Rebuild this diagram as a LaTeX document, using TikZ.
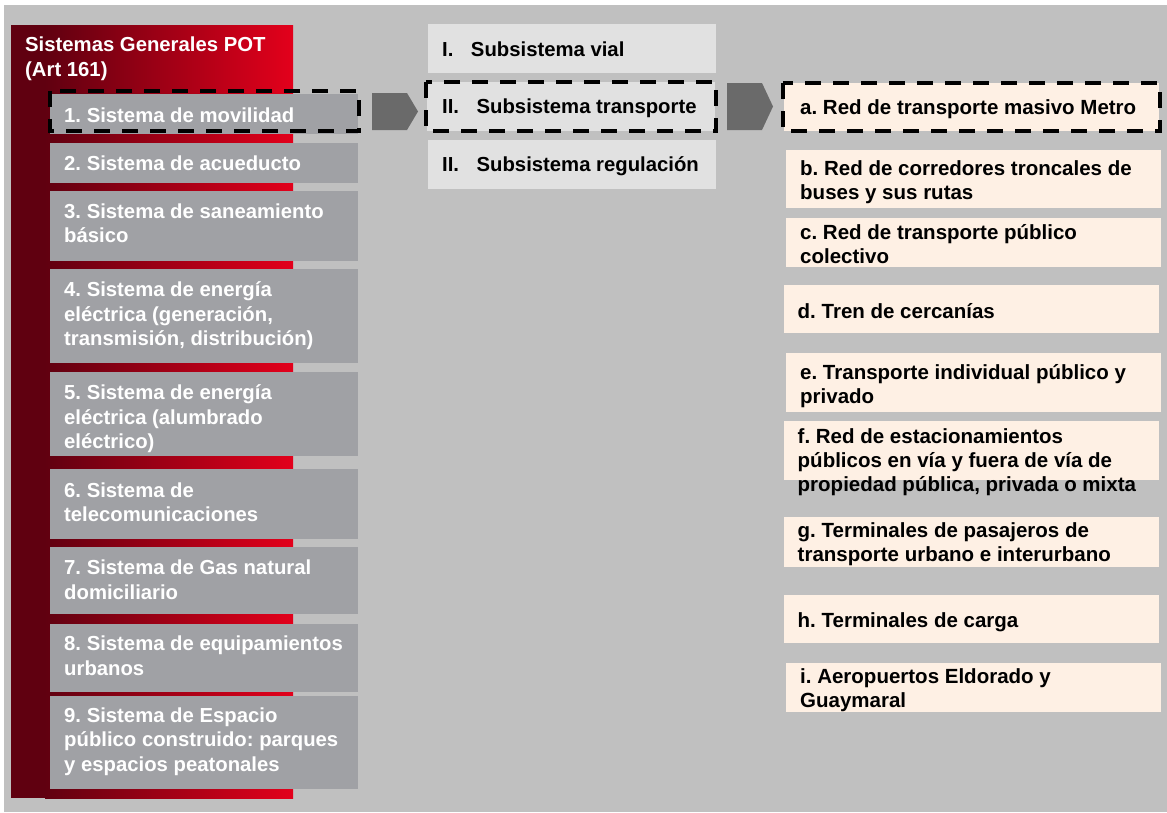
\documentclass[tikz,border=0pt]{standalone}
\usepackage{fontspec}
\setmainfont{Liberation Sans}
\definecolor{bggray}{HTML}{C0C0C0}
\definecolor{leftgray}{HTML}{A0A1A5}
\definecolor{midgray}{HTML}{E1E1E1}
\definecolor{cream}{HTML}{FEF0E4}
\definecolor{arrowgray}{HTML}{6A6A6A}
\definecolor{darkred}{HTML}{600010}
\definecolor{brightred}{HTML}{E3001B}
\begin{document}
\frenchspacing
\begin{tikzpicture}[x=1pt,y=-1pt,
  boxbase/.style={inner sep=0pt,outer sep=0pt,anchor=north west},
  lbox/.style={boxbase,fill=leftgray,minimum width=308pt},
  mbox/.style={boxbase,fill=midgray,minimum width=288pt,minimum height=49pt},
  rbox/.style={boxbase,fill=cream,minimum width=375pt},
  ltext/.style={text=white,font=\frenchspacing\bfseries\fontsize{20.3}{24.5}\selectfont,align=left,inner sep=0pt,anchor=west},
  mtext/.style={text=black,font=\frenchspacing\bfseries\fontsize{20.3}{24}\selectfont,align=left,inner sep=0pt,anchor=west},
  rtext/.style={text=black,font=\frenchspacing\bfseries\fontsize{20.5}{24}\selectfont,align=left,inner sep=0pt,anchor=west},
  titletext/.style={text=white,font=\frenchspacing\bfseries\fontsize{20.3}{25}\selectfont,align=left,inner sep=0pt,anchor=west},
  dashbox/.style={draw=black,line width=4pt,dash pattern=on 16pt off 12pt},
  chevron/.style={fill=arrowgray}
]
\useasboundingbox (0,0) rectangle (1167,812);
\fill[white] (0,0) rectangle (1167,812);
\fill[bggray] (4,5) rectangle (1167,812);

% red panel
\fill[darkred] (11,25) rectangle (293,798);
\shade[left color=darkred,right color=brightred] (45,25) rectangle (293,798);
\node[titletext] (title) at (25,59) {Sistemas Generales POT\\(Art 161)};

% left column boxes
\node[lbox,minimum height=40pt] (s1) at (50,94) {};
\node[lbox,minimum height=40pt] (s2) at (50,143) {};
\node[lbox,minimum height=70pt] (s3) at (50,191) {};
\node[lbox,minimum height=94pt] (s4) at (50,269) {};
\node[lbox,minimum height=84pt] (s5) at (50,372) {};
\node[lbox,minimum height=70pt] (s6) at (50,469) {};
\node[lbox,minimum height=67pt] (s7) at (50,547) {};
\node[lbox,minimum height=68pt] (s8) at (50,624) {};
\node[lbox,minimum height=93pt] (s9) at (50,696) {};
% left column texts
\node[ltext] (s1t) at (64,115) {1. Sistema de movilidad};
\node[ltext] (s2t) at (64,163.5) {2. Sistema de acueducto};
\node[ltext] (s3t) at (64,223) {3. Sistema de saneamiento\\básico};
\node[ltext] (s4t) at (64,316) {4. Sistema de energía\\eléctrica (generación,\\transmisión, distribución)};
\node[ltext] (s5t) at (64,419) {5. Sistema de energía\\eléctrica (alumbrado\\eléctrico)};
\node[ltext] (s6t) at (64,502) {6. Sistema de\\telecomunicaciones};
\node[ltext] (s7t) at (64,579.5) {7. Sistema de Gas natural\\domiciliario};
\node[ltext] (s8t) at (64,655.5) {8. Sistema de equipamientos\\urbanos};
\node[ltext] (s9t) at (64,741.5) {9. Sistema de Espacio\\público construido: parques\\y espacios peatonales};
\draw[dashbox] (50,91) rectangle (359,131);

% middle column
\node[mbox] (m1) at (428,24) {};
\node[mbox] (m2) at (427,82) {};
\node[mbox] (m3) at (428,140) {};
\node[mtext] (m1t) at (442,49.5) {I.\hspace{17.5pt}Subsistema vial};
\node[mtext] (m2t) at (442,108) {II.\hspace{17.5pt}Subsistema transporte};
\node[mtext] (m3t) at (442,166) {II.\hspace{17.5pt}Subsistema regulación};
\draw[dashbox] (426,82) rectangle (716,131);

% chevrons
\fill[chevron] (372,93) -- (407,93) -- (418,111.5) -- (407,130) -- (372,130) -- cycle;
\fill[chevron] (727,83) -- (762,83) -- (773,106.5) -- (762,130) -- (727,130) -- cycle;

% right column boxes
\node[rbox,minimum height=48pt] (ra) at (784,83) {};
\node[rbox,minimum height=58pt] (rb) at (786,150) {};
\node[rbox,minimum height=49pt] (rc) at (786,218) {};
\node[rbox,minimum height=48pt] (rd) at (784,285) {};
\node[rbox,minimum height=59pt] (re) at (786,353) {};
\node[rbox,minimum height=59pt] (rf) at (784,421) {};
\node[rbox,minimum height=50pt] (rg) at (784,517) {};
\node[rbox,minimum height=48pt] (rh) at (784,595) {};
\node[rbox,minimum height=49pt] (ri) at (786,663) {};
\draw[dashbox] (783,83) rectangle (1160,131);
% right column texts
\node[rtext] (rat) at (800,109) {a. Red de transporte masivo Metro};
\node[rtext] (rbt) at (800,182.5) {b. Red de corredores troncales de\\buses y sus rutas};
\node[rtext] (rct) at (800,244) {c. Red de transporte público\\colectivo};
\node[rtext] (rdt) at (797.5,311.5) {d. Tren de cercanías};
\node[rtext] (ret) at (800,386) {e. Transporte individual público y\\privado};
\node[rtext] (rft) at (797.5,462) {f. Red de estacionamientos\\públicos en vía y fuera de vía de\\propiedad pública, privada o mixta};
\node[rtext] (rgt) at (797.5,544.5) {g. Terminales de pasajeros de\\transporte urbano e interurbano};
\node[rtext] (rht) at (797.5,622) {h. Terminales de carga};
\node[rtext] (rit) at (800,690) {i. Aeropuertos Eldorado y\\Guaymaral};
\end{tikzpicture}
\end{document}
